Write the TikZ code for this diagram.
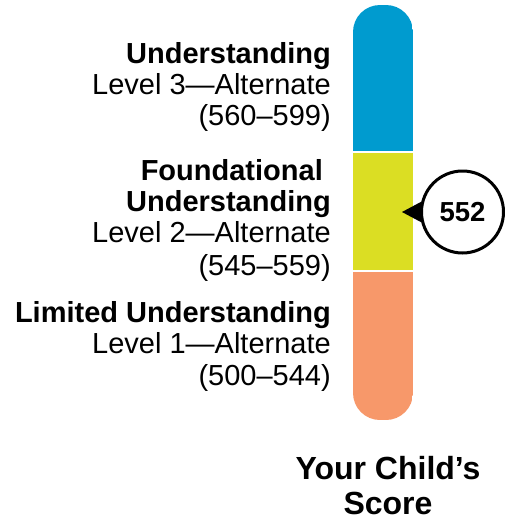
\documentclass[tikz,border=0pt]{standalone}
\usepackage{fontspec}
\setmainfont{Liberation Sans}
\definecolor{lvlthree}{HTML}{009BCF}
\definecolor{lvltwo}{HTML}{DBDE23}
\definecolor{lvlone}{HTML}{F7986A}

\begin{document}
\begin{tikzpicture}[x=1pt,y=-1pt,
  lbl/.style={anchor=base east,inner sep=0pt,font=\fontsize{29}{32}\selectfont},
  lblb/.style={lbl,font=\fontsize{29}{32}\selectfont\bfseries},
  scorecap/.style={anchor=base,inner sep=0pt,font=\fontsize{32}{36}\selectfont\bfseries}]
\useasboundingbox (0,0) rectangle (505,522);
\begin{scope}
\clip [rounded corners=27pt] (353,5) rectangle (413,420);
\fill [lvlthree] (353,5) rectangle (413,151);
\fill [lvltwo] (353,153) rectangle (413,269.5);
\fill [lvlone] (353,271.5) rectangle (413,420);
\end{scope}
\node [lblb] (u3) at (331,63) {Understanding};
\node [lbl] (l3) at (331,94) {Level 3—Alternate};
\node [lbl] (r3) at (331,125.5) {(560–599)};
\node [lblb] (f2) at (323,180) {Foundational};
\node [lblb] (u2) at (331,211) {Understanding};
\node [lbl] (l2) at (331,242.5) {Level 2—Alternate};
\node [lbl] (r2) at (331,275) {(545–559)};
\node [lblb] (u1) at (331,322) {Limited Understanding};
\node [lbl] (l1) at (331,353) {Level 1—Alternate};
\node [lbl] (r1) at (331,385) {(500–544)};
\node [circle,draw,line width=3pt,fill=white,minimum size=82pt,inner sep=0pt,
  font=\fontsize{27.5}{30}\selectfont\bfseries] (score) at (462.5,212) {552};
\coordinate (tip) at (402,212);
\fill (tip) -- (score.166) -- (score.194) -- cycle;
\node [scorecap] (ycs) at (388,479.5) {Your Child’s};
\node [scorecap] (sc) at (388,514.5) {Score};
\end{tikzpicture}
\end{document}
